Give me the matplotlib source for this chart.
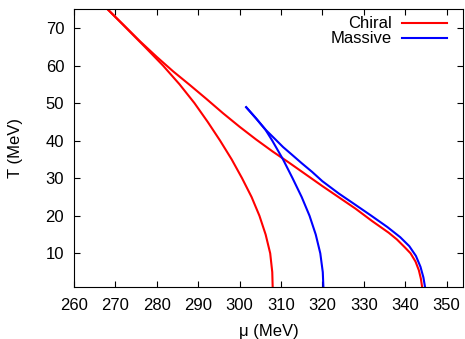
import matplotlib
matplotlib.use("Agg")
import matplotlib.pyplot as plt

# values (mu in MeV, T in MeV)
chiral_left_mu = [268.1, 272.6, 277.1, 281.5, 285.5, 289.1, 292.3, 295.3, 298.1,
                  300.6, 302.9, 304.8, 306.3, 307.4, 307.9, 308.0]
chiral_left_T = [75.0, 70.0, 65.0, 60.0, 55.0, 50.0, 45.0, 40.0, 35.0,
                 30.0, 25.0, 20.0, 15.0, 10.0, 5.0, 1.0]

chiral_right_mu = [268.1, 272.0, 276.0, 280.0, 284.0, 288.0, 292.0, 296.0, 300.0,
                   304.0, 308.0, 312.0, 316.0, 320.0, 324.0, 328.0, 332.0, 336.0,
                   338.0, 340.0, 341.3, 342.5, 343.3, 343.8, 344.1]
chiral_right_T = [75.0, 70.8, 66.4, 62.3, 58.4, 54.8, 51.1, 47.3, 43.7,
                  40.3, 37.1, 34.1, 31.0, 27.9, 24.9, 21.9, 18.6, 15.5,
                  13.7, 11.5, 10.0, 7.8, 5.5, 3.2, 1.0]

massive_left_mu = [301.6, 304.0, 306.2, 307.9, 310.5, 312.8, 315.0, 316.9, 318.4,
                   319.5, 320.1, 320.25]
massive_left_T = [48.9, 45.9, 43.0, 40.0, 35.0, 30.0, 25.0, 20.0, 15.0,
                  10.0, 5.0, 1.0]

massive_right_mu = [301.6, 304.0, 306.2, 308.5, 310.5, 312.5, 315.0, 317.5, 320.0,
                    324.0, 327.6, 331.7, 335.7, 338.8, 341.0, 342.6, 343.7, 344.4,
                    344.8]
massive_right_T = [48.9, 45.9, 43.0, 40.5, 38.3, 36.4, 34.0, 31.7, 29.2,
                   25.9, 23.2, 20.1, 17.0, 14.3, 11.9, 9.3, 6.4, 3.6,
                   1.0]

x_ticks = list(range(260, 351, 10))
y_ticks = list(range(10, 71, 10))

plt.rcParams["font.family"] = ["Liberation Sans", "DejaVu Sans"]
plt.rcParams["font.size"] = 12

fig = plt.figure(figsize=(4.65, 3.39), dpi=100)
ax = fig.add_axes([0.159, 0.153, 0.837, 0.820])

ax.plot(chiral_left_mu, chiral_left_T, color="#ff0000", lw=1.5, label="Chiral")
ax.plot(chiral_right_mu, chiral_right_T, color="#ff0000", lw=1.5)
ax.plot(massive_left_mu, massive_left_T, color="#0000ff", lw=1.5, label="Massive")
ax.plot(massive_right_mu, massive_right_T, color="#0000ff", lw=1.5)

ax.set_xlim(260, 354)
ax.set_ylim(1, 75)
ax.set_xticks(x_ticks)
ax.set_yticks(y_ticks)
ax.tick_params(direction="in", length=4, width=0.8, top=True, right=True,
               pad=7, labelsize=12)
ax.tick_params(axis="x", pad=8)
ax.set_xlabel("μ (MeV)", fontsize=12, labelpad=8)
ax.set_ylabel("T (MeV)", fontsize=12, labelpad=16)

ax.legend(loc="upper right", bbox_to_anchor=(0.959, 0.974), frameon=False,
          markerfirst=False, handlelength=2.7, handletextpad=0.6,
          labelspacing=0.0, borderaxespad=0.0, borderpad=0.0, fontsize=12)

fig.savefig("out.png", dpi=100)
